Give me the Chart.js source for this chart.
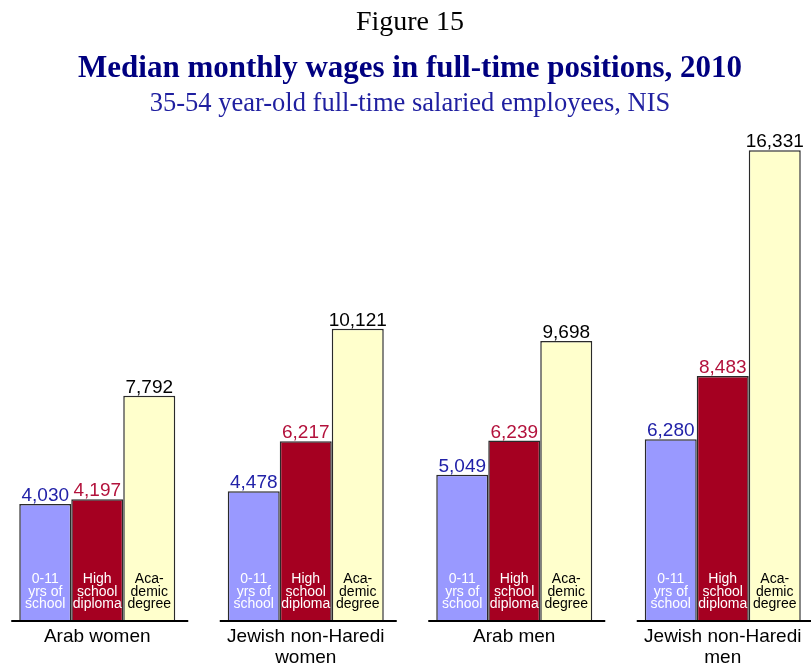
<!DOCTYPE html>
<html>
<head>
<meta charset="utf-8">
<script src="https://cdn.jsdelivr.net/npm/chart.js@4"></script>
<style>
  html, body { margin: 0; padding: 0; background: #fff; overflow: hidden; }
  #wrap { position: relative; width: 811px; height: 665px; }
  #chart { position: absolute; left: -7px; top: 0; }
</style>
</head>
<body>
<div id="wrap"><canvas id="chart" width="834" height="665"></canvas></div>
<script>
const groups = [['Arab women'], ['Jewish non-Haredi', 'women'], ['Arab men'], ['Jewish non-Haredi', 'men']];
const lowEdu = [4030, 4478, 5049, 6280];
const highSchool = [4197, 6217, 6239, 8483];
const academic = [7792, 10121, 9698, 16331];
const seriesNames = [['0-11', 'yrs of', 'school'], ['High', 'school', 'diploma'], ['Aca-', 'demic', 'degree']];

(function(){
  const SANS = '"Liberation Sans", Arial, sans-serif';
  const SERIF = '"Liberation Serif", "Times New Roman", serif';
  const valueColors = ['#2222a8', '#b3123c', '#000000'];
  const innerColors = ['#ffffff', '#ffffff', '#000000'];

  // headings, drawn above the plot
  const headings = {
    id: 'headings',
    afterDraw(chart) {
      const ctx = chart.ctx, cx = chart.width / 2;
      ctx.save();
      ctx.textAlign = 'center';
      ctx.textBaseline = 'alphabetic';
      ctx.fillStyle = '#000';
      ctx.font = '28px ' + SERIF;
      ctx.fillText('Figure 15', cx, 30);
      ctx.fillStyle = '#000080';
      ctx.font = 'bold 31px ' + SERIF;
      ctx.fillText('Median monthly wages in full-time positions, 2010', cx, 77);
      ctx.fillStyle = '#1f1fa0';
      ctx.font = '26.5px ' + SERIF;
      ctx.fillText('35-54 year-old full-time salaried employees, NIS', cx, 111);
      ctx.restore();
    }
  };

  // value labels, in-bar names, baselines and group names
  const barText = {
    id: 'barText',
    afterDatasetsDraw(chart) {
      const ctx = chart.ctx;
      const base = chart.scales.y.getPixelForValue(0);
      ctx.save();
      ctx.textAlign = 'center';
      ctx.textBaseline = 'alphabetic';
      chart.data.datasets.forEach((ds, di) => {
        const meta = chart.getDatasetMeta(di);
        meta.data.forEach((bar, i) => {
          ctx.fillStyle = valueColors[di];
          ctx.font = '19px ' + SANS;
          ctx.fillText(ds.data[i].toLocaleString('en-US'), bar.x, bar.y - 3);
          ctx.fillStyle = innerColors[di];
          ctx.font = '14px ' + SANS;
          seriesNames[di].forEach((line, li) => {
            ctx.fillText(line, bar.x, base - 37 + li * 12.5);
          });
        });
      });
      // baseline segment under each group
      const first = chart.getDatasetMeta(0).data;
      const last = chart.getDatasetMeta(2).data;
      ctx.strokeStyle = '#000';
      ctx.lineWidth = 2;
      first.forEach((bar, i) => {
        const l = bar.x - bar.width / 2 - 8;
        const r = last[i].x + last[i].width / 2 + 13;
        ctx.beginPath();
        ctx.moveTo(l, base + 1);
        ctx.lineTo(r, base + 1);
        ctx.stroke();
      });
      // group names under the axis
      ctx.fillStyle = '#000';
      ctx.font = '19px ' + SANS;
      groups.forEach((lines, i) => {
        const x = chart.scales.x.getPixelForValue(i);
        lines.forEach((line, li) => {
          ctx.fillText(line, x, base + 22 + li * 21);
        });
      });
      ctx.restore();
    }
  };

  const makeSet = (data, color) => ({
    data: data,
    backgroundColor: color,
    borderColor: '#2a2a2a',
    borderWidth: 1.5,
    categoryPercentage: 156 / 208.5,
    barPercentage: 1
  });

  new Chart(document.getElementById('chart').getContext('2d'), {
    type: 'bar',
    plugins: [headings, barText],
    data: {
      labels: groups.map(g => g.join(' ')),
      datasets: [
        makeSet(lowEdu, '#9999ff'),
        makeSet(highSchool, '#a50021'),
        makeSet(academic, '#ffffcc')
      ]
    },
    options: {
      responsive: false,
      animation: false,
      layout: { padding: { top: 131, bottom: 45, left: 0, right: 0 } },
      plugins: {
        legend: { display: false },
        tooltip: { enabled: false },
        title: { display: false }
      },
      scales: {
        x: { display: false },
        y: { display: false, min: 0, max: 17000 }
      }
    }
  });
})();
</script>
</body>
</html>
